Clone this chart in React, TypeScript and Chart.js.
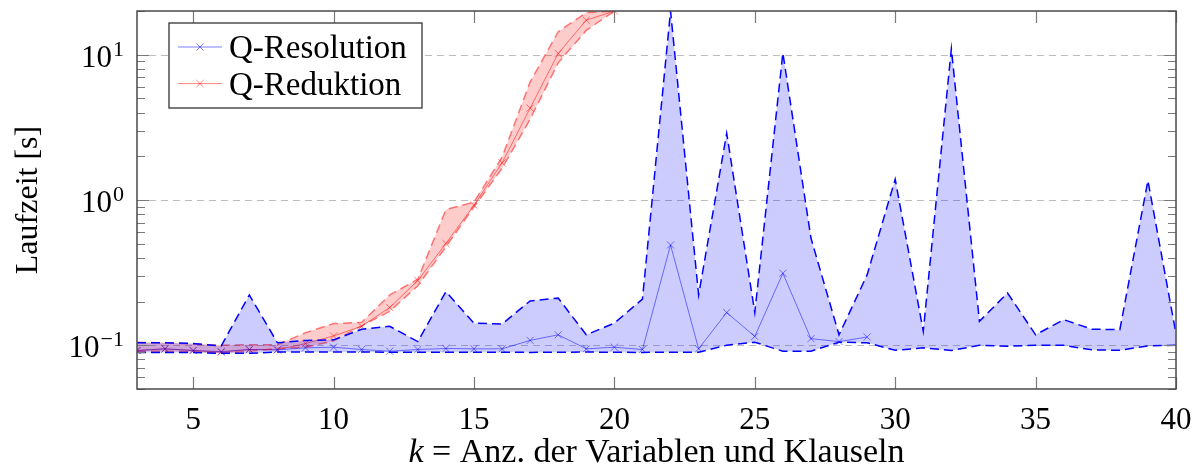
import React, { useEffect, useRef } from 'react';
import { Chart, registerables } from 'chart.js';

Chart.register(...registerables);

// ---- data ----
const kValues = [3, 4, 5, 6, 7, 8, 9, 10, 11, 12, 13, 14, 15, 16, 17, 18, 19, 20, 21, 22, 23, 24, 25, 26, 27, 28, 29, 30, 31, 32, 33, 34, 35, 36, 37, 38, 39, 40];

const resolutionMean = [0.092, 0.0945, 0.092, 0.0905, 0.0935, 0.093, 0.096, 0.097, 0.0935, 0.091, 0.0935, 0.095, 0.0945, 0.0945, 0.108, 0.118, 0.0945, 0.097, 0.0935, 0.49, 0.0945, 0.168, 0.115, 0.313, 0.111, 0.106, 0.114];
const resolutionUpper = [0.104, 0.104, 0.103, 0.099, 0.222, 0.104, 0.108, 0.109, 0.129, 0.135, 0.106, 0.234, 0.142, 0.14, 0.202, 0.211, 0.118, 0.142, 0.208, 20, 0.222, 2.88, 0.168, 10.3, 0.547, 0.118, 0.305, 1.39, 0.125, 11.0, 0.146, 0.229, 0.118, 0.15, 0.129, 0.128, 1.36, 0.12];
const resolutionLower = [0.089, 0.089, 0.089, 0.088, 0.088, 0.09, 0.09, 0.09, 0.09, 0.0895, 0.0895, 0.0895, 0.0895, 0.0897, 0.0893, 0.0895, 0.0898, 0.0895, 0.0893, 0.0895, 0.0896, 0.1, 0.105, 0.091, 0.091, 0.105, 0.104, 0.0924, 0.096, 0.092, 0.1, 0.0985, 0.1, 0.1, 0.093, 0.0924, 0.099, 0.1];

const reduktionMean = [0.092, 0.0945, 0.092, 0.0896, 0.0935, 0.093, 0.1027, 0.116, 0.135, 0.182, 0.279, 0.502, 0.92, 1.8, 4.29, 10.2, 17.3, 20];
const reduktionUpper = [0.105, 0.104, 0.102, 0.1, 0.101, 0.101, 0.122, 0.141, 0.144, 0.222, 0.285, 0.859, 0.968, 1.97, 6.5, 14.4, 19.5, 20];
const reduktionLower = [0.091, 0.091, 0.09, 0.088, 0.091, 0.095, 0.097, 0.107, 0.136, 0.171, 0.257, 0.476, 0.896, 1.65, 3.6, 8.8, 14.7, 20];

const seriesNames = ['Q-Resolution', 'Q-Reduktion'];
const xTickValues = [5, 10, 15, 20, 25, 30, 35, 40];
const yMajorTicks = [0.1, 1, 10];
const yMajorExponents = ['\u22121', '0', '1'];
const yMinorTicks = [0.05, 0.06, 0.07, 0.08, 0.09, 0.2, 0.3, 0.4, 0.5, 0.6, 0.7, 0.8, 0.9, 2, 3, 4, 5, 6, 7, 8, 9, 20];
const xTitleItalic = 'k';
const xTitleRest = ' = Anz. der Variablen und Klauseln';
const yTitle = 'Laufzeit [s]';

const FONT = '"Liberation Serif", "Times New Roman", serif';
const BLUE = 'rgba(0,0,255,0.5)';
const RED = 'rgba(255,0,0,0.5)';

const pts = (vals: number[]) => vals.map((y, i) => ({ x: kValues[i], y }));

const decorPlugin = {
  id: 'decor',
  beforeDatasetsDraw(chart: any) {
    const { ctx, chartArea: a, scales } = chart;
    const ys = scales.y;
    ctx.save();
    ctx.strokeStyle = '#bdbdbd';
    ctx.lineWidth = 1.2;
    ctx.setLineDash([7, 5]);
    yMajorTicks.forEach((v) => {
      const py = Math.round(ys.getPixelForValue(v)) + 0.5;
      ctx.beginPath();
      ctx.moveTo(a.left, py);
      ctx.lineTo(a.right, py);
      ctx.stroke();
    });
    ctx.restore();
  },
  afterDraw(chart: any) {
    const { ctx, chartArea: a, scales } = chart;
    const xs = scales.x;
    const ys = scales.y;
    ctx.save();
    // ticks
    ctx.strokeStyle = '#7a7a7a';
    ctx.lineWidth = 1.2;
    ctx.setLineDash([]);
    const major = 12;
    const minor = 8;
    xTickValues.forEach((v) => {
      const px = Math.round(xs.getPixelForValue(v)) + 0.5;
      ctx.beginPath();
      ctx.moveTo(px, a.bottom);
      ctx.lineTo(px, a.bottom - major);
      ctx.moveTo(px, a.top);
      ctx.lineTo(px, a.top + major);
      ctx.stroke();
    });
    yMajorTicks.forEach((v) => {
      const py = Math.round(ys.getPixelForValue(v)) + 0.5;
      ctx.beginPath();
      ctx.moveTo(a.left, py);
      ctx.lineTo(a.left + major, py);
      ctx.moveTo(a.right, py);
      ctx.lineTo(a.right - major, py);
      ctx.stroke();
    });
    yMinorTicks.forEach((v) => {
      const py = Math.round(ys.getPixelForValue(v)) + 0.5;
      ctx.beginPath();
      ctx.moveTo(a.left, py);
      ctx.lineTo(a.left + minor, py);
      ctx.moveTo(a.right, py);
      ctx.lineTo(a.right - minor, py);
      ctx.stroke();
    });
    // frame
    ctx.strokeStyle = '#4a4a4a';
    ctx.lineWidth = 1.5;
    ctx.strokeRect(a.left, a.top, a.right - a.left, a.bottom - a.top);

    // x tick labels
    ctx.fillStyle = '#000';
    ctx.font = `31px ${FONT}`;
    ctx.textAlign = 'center';
    ctx.textBaseline = 'alphabetic';
    xTickValues.forEach((v) => {
      ctx.fillText(String(v), xs.getPixelForValue(v), a.bottom + 40);
    });
    // y tick labels
    yMajorTicks.forEach((v, i) => {
      const py = ys.getPixelForValue(v);
      ctx.font = `22px ${FONT}`;
      const ew = ctx.measureText(yMajorExponents[i]).width;
      ctx.font = `31px ${FONT}`;
      const bw = ctx.measureText('10').width;
      const right = a.left - 13;
      ctx.textAlign = 'left';
      ctx.fillText('10', right - ew - 1 - bw, py + 12);
      ctx.font = `22px ${FONT}`;
      ctx.fillText(yMajorExponents[i], right - ew, py + 1);
    });
    // x title
    const tf = 34;
    ctx.font = `italic ${tf}px ${FONT}`;
    const w1 = ctx.measureText(xTitleItalic).width;
    ctx.font = `${tf}px ${FONT}`;
    const w2 = ctx.measureText(xTitleRest).width;
    const cx = (a.left + a.right) / 2;
    const sx = cx - (w1 + w2) / 2;
    ctx.textAlign = 'left';
    ctx.font = `italic ${tf}px ${FONT}`;
    ctx.fillText(xTitleItalic, sx, 462);
    ctx.font = `${tf}px ${FONT}`;
    ctx.fillText(xTitleRest, sx + w1, 462);
    // y title
    ctx.save();
    ctx.translate(37, (a.top + a.bottom) / 2);
    ctx.rotate(-Math.PI / 2);
    ctx.textAlign = 'center';
    ctx.font = `32px ${FONT}`;
    ctx.fillText(yTitle, 0, 0);
    ctx.restore();

    // legend
    const lx = a.left + 32;
    const ly = a.top + 12;
    const lw = 253;
    const lh = 85;
    ctx.fillStyle = '#fff';
    ctx.fillRect(lx, ly, lw, lh);
    ctx.strokeStyle = '#333';
    ctx.lineWidth = 1.3;
    ctx.strokeRect(lx, ly, lw, lh);
    const colors = [BLUE, RED];
    seriesNames.forEach((name, i) => {
      const cy = ly + 24 + i * 36.6;
      ctx.strokeStyle = colors[i];
      ctx.lineWidth = 1;
      ctx.beginPath();
      ctx.moveTo(lx + 9, cy);
      ctx.lineTo(lx + 53, cy);
      ctx.stroke();
      const mx = lx + 31;
      const r = 3.6;
      ctx.beginPath();
      ctx.moveTo(mx - r, cy - r);
      ctx.lineTo(mx + r, cy + r);
      ctx.moveTo(mx - r, cy + r);
      ctx.lineTo(mx + r, cy - r);
      ctx.stroke();
      ctx.fillStyle = '#000';
      ctx.font = `33px ${FONT}`;
      ctx.textAlign = 'left';
      ctx.textBaseline = 'alphabetic';
      ctx.fillText(name, lx + 60, cy + 11);
    });
    ctx.restore();
  },
};

export default function App() {
  const ref = useRef<HTMLCanvasElement | null>(null);
  useEffect(() => {
    if (!ref.current) return;
    const bandCommon = {
      pointRadius: 0,
      borderWidth: 1.5,
      tension: 0,
      clip: 0,
    };
    const chart = new Chart(ref.current, {
      type: 'line',
      data: {
        datasets: [
          {
            ...bandCommon,
            label: 'resUpper',
            data: pts(resolutionUpper),
            borderColor: '#0000ff',
            borderDash: [9, 5],
            backgroundColor: 'rgba(0,0,255,0.2)',
            fill: '+1',
          },
          {
            ...bandCommon,
            label: 'resLower',
            data: pts(resolutionLower),
            borderColor: '#0000ff',
            borderDash: [9, 5],
            fill: false,
          },
          {
            ...bandCommon,
            label: 'redUpper',
            data: pts(reduktionUpper),
            borderColor: RED,
            borderDash: [9, 5],
            backgroundColor: 'rgba(255,0,0,0.2)',
            fill: '+1',
          },
          {
            ...bandCommon,
            label: 'redLower',
            data: pts(reduktionLower),
            borderColor: RED,
            borderDash: [9, 5],
            fill: false,
          },
          {
            label: seriesNames[0],
            data: pts(resolutionMean),
            borderColor: BLUE,
            borderWidth: 1,
            pointStyle: 'crossRot',
            pointRadius: 5,
            pointBorderWidth: 1,
            pointBorderColor: BLUE,
            fill: false,
            clip: 0,
          },
          {
            label: seriesNames[1],
            data: pts(reduktionMean),
            borderColor: RED,
            borderWidth: 1,
            pointStyle: 'crossRot',
            pointRadius: 5,
            pointBorderWidth: 1,
            pointBorderColor: RED,
            fill: false,
            clip: 0,
          },
        ],
      },
      options: {
        responsive: false,
        animation: false,
        events: [],
        layout: { padding: { top: 11, right: 26, left: 0, bottom: 0 } },
        plugins: {
          legend: { display: false },
          tooltip: { enabled: false },
        },
        scales: {
          x: {
            type: 'linear',
            min: 3,
            max: 40,
            grid: { display: false },
            border: { display: false },
            ticks: { display: false },
            afterFit: (s: any) => {
              s.height = 79;
            },
          },
          y: {
            type: 'logarithmic',
            min: 0.05,
            max: 20,
            grid: { display: false },
            border: { display: false },
            ticks: { display: false },
            afterFit: (s: any) => {
              s.width = 137;
            },
          },
        },
      },
      plugins: [decorPlugin],
    } as any);
    return () => chart.destroy();
  }, []);
  return (
    <div style={{ position: 'absolute', left: 0, top: 0, width: 1202, height: 468, background: '#fff' }}>
      <canvas ref={ref} width={1202} height={468} />
    </div>
  );
}
